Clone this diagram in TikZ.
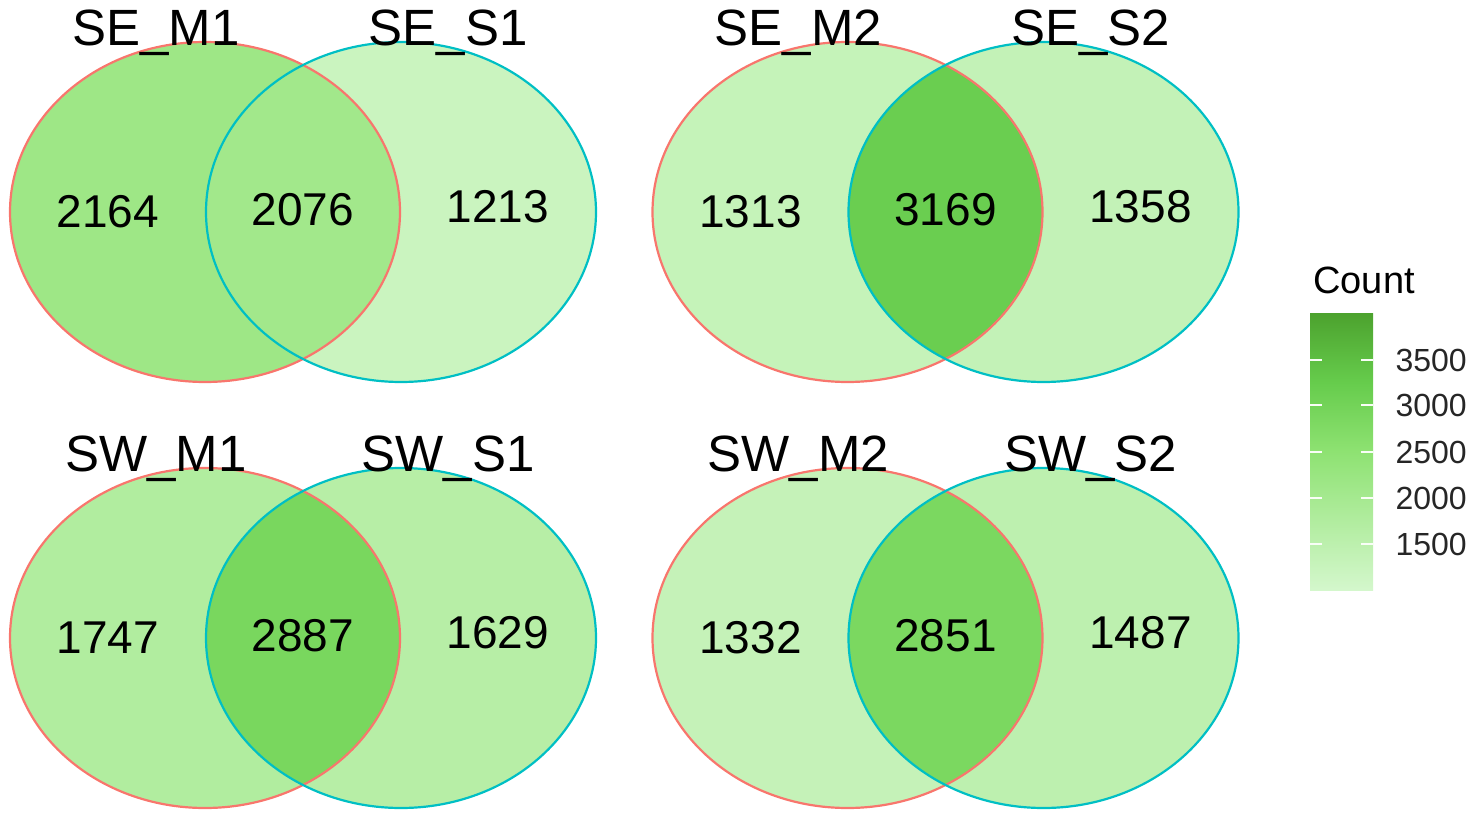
\documentclass[tikz,border=0pt]{standalone}
\usepackage{fontspec}
\setmainfont{Liberation Sans}
\usetikzlibrary{positioning}

\definecolor{clow}{RGB}{212,247,204}
\definecolor{cmid}{RGB}{142,226,114}
\definecolor{cthree}{RGB}{102,204,76}
\definecolor{chigh}{RGB}{76,162,46}
\definecolor{setred}{RGB}{248,118,109}
\definecolor{setcyan}{RGB}{0,191,196}

% fill colour of a region from its count (scale 1000 -- 4000)
\newcommand{\setcountcolor}[2]{%
  \ifdim #2pt<2500pt
    \pgfmathsetmacro{\cpct}{(#2-1000)/15}\colorlet{#1}{cmid!\cpct!clow}%
  \else\ifdim #2pt<3250pt
    \pgfmathsetmacro{\cpct}{(#2-2500)/7.5}\colorlet{#1}{cthree!\cpct!cmid}%
  \else
    \pgfmathsetmacro{\cpct}{(#2-3250)/7.5}\colorlet{#1}{chigh!\cpct!cthree}%
  \fi\fi}

\pgfdeclareverticalshading{countbar}{100bp}{color(0bp)=(clow); color(25bp)=(clow);
  color(50bp)=(cmid); color(62.5bp)=(cthree); color(75bp)=(chigh); color(100bp)=(chigh)}

\tikzset{
  setline/.style={line width=2.2pt},
  setname/.style={font=\fontsize{51}{51}\selectfont},
  countnum/.style={font=\fontsize{46}{46}\selectfont},
  legendtext/.style={font=\fontsize{32}{32}\selectfont, text=black!85},
}

\begin{document}
\begin{tikzpicture}[x=1pt, y=-1pt]
   \useasboundingbox (0, 0) rectangle (1476, 824);

   \foreach \cx/\cy/\nl/\nr/\vl/\vm/\vr [count=\i] in
      {303/212/SE\_M1/SE\_S1/2164/2076/1213,
       945.5/212/SE\_M2/SE\_S2/1313/3169/1358,
       303/638/SW\_M1/SW\_S1/1747/2887/1629,
       945.5/638/SW\_M2/SW\_S2/1332/2851/1487}{
      \setcountcolor{fl}{\vl}
      \setcountcolor{fm}{\vm}
      \setcountcolor{fr}{\vr}
      \fill[fl] ({\cx-98}, \cy) ellipse [x radius=195, y radius=170];
      \fill[fr] ({\cx+98}, \cy) ellipse [x radius=195, y radius=170];
      \begin{scope}
         \clip ({\cx-98}, \cy) ellipse [x radius=195, y radius=170];
         \fill[fm] ({\cx+98}, \cy) ellipse [x radius=195, y radius=170];
      \end{scope}
      \draw[setline, setred] ({\cx-98}, \cy) ellipse [x radius=195, y radius=170];
      \draw[setline, setcyan] ({\cx+98}, \cy) ellipse [x radius=195, y radius=170];

      \node[setname] (nameL-\i) at ({\cx-147}, {\cy-179}) {\nl};
      \node[setname] (nameR-\i) at ({\cx+145}, {\cy-179}) {\nr};
      \node[countnum] (numL-\i) at ({\cx-195}, \cy) {\vl};
      \node[countnum] (numM-\i) at (\cx, {\cy-2}) {\vm};
      \node[countnum] (numR-\i) at ({\cx+195}, {\cy-5}) {\vr};
   }

   % legend
   \node[font=\fontsize{38}{38}\selectfont] (count) at (1364, 280) {Count};
   \shade[shading=countbar] (1310, 313) rectangle (1373, 590);
   \foreach \v/\ty in {3500/360, 3000/405, 2500/452, 2000/498, 1500/544}{
      \draw[white!85!clow, line width=1.5pt] (1310, \ty) -- (1322, \ty);
      \draw[white!85!clow, line width=1.5pt] (1361, \ty) -- (1373, \ty);
      \node[legendtext, anchor=west] (tick-\v) at (1392, \ty) {\v};
   }

\end{tikzpicture}
\end{document}
